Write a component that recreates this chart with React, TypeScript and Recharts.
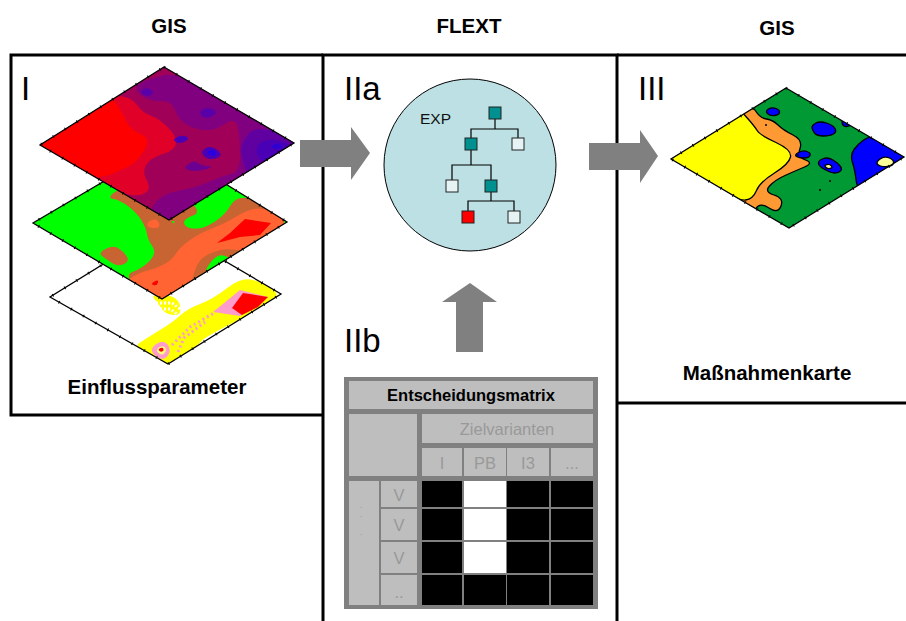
import React from 'react';
import { ScatterChart, Scatter, XAxis, YAxis } from 'recharts';

type Pair = number[];

// frames
const frameLeft: Pair[] = [[323, 55], [11, 55], [11, 415], [323, 415]];
const frameMid: Pair[] = [[323, 621], [323, 55], [617, 55], [617, 621]];
const frameRight: Pair[] = [[617, 55], [906, 55]];
const frameRightLow: Pair[] = [[617, 403], [906, 403]];

// arrows
const arrowOne: Pair[] = [[300, 140], [351, 140], [351, 127], [370, 153], [351, 180], [351, 167], [300, 167]];
const arrowTwo: Pair[] = [[589, 143], [640, 143], [640, 130], [658, 156], [640, 183], [640, 170], [589, 170]];
const arrowUp: Pair[] = [[456, 352], [456, 302], [442, 302], [470, 283], [497, 302], [483, 302], [483, 352]];

// top map (I)
const topDiamond: Pair[] = [[164, 67], [294, 143], [169, 220], [40, 145]];
const topPurple: Pair[] = [[182, 72], [310, 140], [175, 235], [146, 218], [160, 194], [195, 188], [222, 176], [240, 172], [240, 140], [236, 116], [212, 133], [180, 124], [172, 100], [150, 102], [132, 88], [150, 78]];
const topCrimson: Pair[] = [[113, 95], [132, 98], [143, 113], [158, 118], [176, 135], [176, 150], [150, 158], [142, 172], [152, 190], [134, 198], [95, 182], [60, 160], [90, 108]];
const topRed: Pair[] = [[110, 96], [120, 108], [130, 130], [147, 136], [147, 148], [133, 165], [120, 170], [106, 177], [60, 180], [10, 145], [60, 100]];
const topViolet: Pair[] = [[240, 145], [256, 124], [310, 143], [248, 180], [243, 160]];
const topBlobA: Pair[] = [[200, 110], [209, 107], [218, 112], [210, 118], [201, 117]];
const topBlobB: Pair[] = [[173, 139], [182, 135], [190, 138], [183, 143], [176, 143]];
const topBlobC: Pair[] = [[201, 151], [211, 145], [224, 155], [212, 160], [204, 157]];
const topBlobD: Pair[] = [[139, 92], [147, 87], [155, 93], [147, 97]];
const topBlobE: Pair[] = [[254, 146], [270, 138], [296, 145], [262, 166]];
const topCore: Pair[] = [[206, 152], [212, 149], [218, 153], [212, 157]];
const topCoreB: Pair[] = [[270, 146], [277, 143], [285, 147], [276, 150]];
const topDark: Pair[] = [[182, 168], [195, 160], [200, 165], [215, 167], [195, 172]];
const topSpot: Pair[] = [[220, 163], [227, 160], [232, 165], [226, 169]];

// middle map
const midDiamond: Pair[] = [[164, 146], [287, 222], [162, 299], [33, 223]];
const midBrown: Pair[] = [[107, 198], [120, 200], [137, 213], [146, 228], [148, 240], [157, 253], [143, 268], [122, 276], [162, 312], [300, 226], [275, 208], [258, 200], [236, 196], [225, 215], [205, 228], [190, 229], [183, 224], [186, 218], [200, 213], [190, 200], [165, 190], [120, 188]];
const midOrange: Pair[] = [[122, 284], [138, 273], [157, 268], [172, 260], [180, 247], [200, 233], [226, 223], [245, 211], [262, 207], [280, 216], [292, 226], [248, 252], [225, 248], [205, 255], [196, 265], [190, 290], [162, 312]];
const midRed: Pair[] = [[245, 219], [271, 223], [260, 235], [240, 237], [217, 243], [230, 233]];
const midRedSmall: Pair[] = [[150, 284], [159, 279], [157, 286]];
const midOrangeSmall: Pair[] = [[147, 222], [157, 218], [161, 228], [148, 228]];
const midBrownPatch: Pair[] = [[98, 253], [113, 245], [123, 251], [130, 261], [118, 267], [106, 259]];
const midGreenPatch: Pair[] = [[202, 276], [213, 258], [223, 254], [236, 262]];
const midGreenDot: Pair[] = [[171, 221], [175, 221], [174, 224]];
const midGreenCorner: Pair[] = [[283, 222], [287, 219], [290, 224], [285, 225]];

// bottom map
const lowDiamond: Pair[] = [[165, 226], [281, 294], [168, 364], [50, 297]];
const lowYellow: Pair[] = [[130, 349], [150, 336], [173, 322], [187, 309], [213, 299], [240, 278], [260, 281], [282, 295], [262, 308], [205, 337], [198, 345], [168, 372]];
const lowYellowTop: Pair[] = [[150, 294], [178, 296], [182, 316], [165, 314], [158, 303]];
const lowSpeckleA: Pair[] = [[156, 303], [172, 303], [180, 309]];
const lowSpeckleB: Pair[] = [[160, 309], [170, 309], [177, 314]];
const lowPink: Pair[] = [[213, 312], [240, 290], [268, 297], [240, 316]];
const lowRed: Pair[] = [[232, 308], [243, 293], [268, 297], [258, 307], [242, 315]];
const lowPinkSmall: Pair[] = [[148, 350], [163, 339], [172, 350], [163, 362]];
const lowWhiteSmall: Pair[] = [[155, 350], [163, 345], [167, 350], [162, 356]];
const lowRedSmall: Pair[] = [[158, 349], [163, 347], [164, 351], [160, 352]];
const lowTrailA: Pair[] = [[172, 345], [190, 327], [214, 313]];
const lowTrailB: Pair[] = [[178, 352], [184, 338], [205, 322]];

// right map (III)
const rightDiamond: Pair[] = [[786, 88], [904, 157], [789, 228], [671, 159]];
const rightOrange: Pair[] = [[736, 108], [752, 105], [760, 118], [773, 120], [783, 130], [803, 140], [797, 157], [814, 163], [795, 171], [775, 180], [764, 192], [784, 198], [778, 214], [760, 202], [752, 215], [736, 198], [700, 170]];
const rightYellow: Pair[] = [[743, 113], [755, 127], [760, 135], [792, 150], [789, 164], [760, 182], [753, 199], [738, 201], [660, 165], [655, 155], [730, 100]];
const rightBlueBig: Pair[] = [[850, 155], [858, 144], [868, 137], [885, 132], [925, 157], [858, 196], [855, 170]];
const rightBlueA: Pair[] = [[765, 111], [772, 107], [780, 110], [779, 115], [770, 116]];
const rightBlueB: Pair[] = [[812, 125], [820, 121], [833, 125], [837, 132], [830, 136], [817, 136], [812, 130]];
const rightBlueC: Pair[] = [[842, 119], [852, 125], [846, 127], [842, 125]];
const rightBlueD: Pair[] = [[794, 155], [803, 150], [811, 153], [809, 158], [799, 158]];
const rightBlueE: Pair[] = [[819, 160], [828, 157], [838, 163], [843, 170], [835, 174], [825, 170], [818, 165]];
const rightPaleA: Pair[] = [[824, 165], [830, 164], [833, 168], [827, 169]];
const rightPaleB: Pair[] = [[877, 161], [885, 156], [894, 160], [893, 166], [884, 167], [877, 165]];
const rightDots: Pair[] = [[766, 125], [798, 155], [830, 181], [820, 190]];

// decision tree
const circleCentre: Pair[] = [[470, 165]];
const treeLinks: Pair[][] = [
  [[495, 113], [495, 129]],
  [[471, 144], [471, 129], [518, 129], [518, 144]],
  [[471, 144], [471, 165]],
  [[452, 186], [452, 165], [491, 165], [491, 186]],
  [[491, 186], [491, 201]],
  [[468, 217], [468, 201], [514, 201], [514, 217]],
];
const treeTeal: Pair[] = [[495, 113], [471, 144], [491, 186]];
const treeEmpty: Pair[] = [[518, 144], [452, 186], [514, 217]];
const treeRed: Pair[] = [[468, 217]];

// matrix
const matrixEdgeX: Pair[] = [[422, 462], [464, 506], [507, 549], [551, 593]];
const matrixEdgeY: Pair[] = [[481, 507], [509, 540], [542, 573], [575, 605]];
const whiteCells: Pair[] = [[1, 0], [1, 1], [1, 2]];
const matrixOuter: number[] = [344, 377, 598, 609];
const greyCells: number[][] = [
  [349, 381, 593, 409],
  [349, 414, 417, 476],
  [422, 414, 593, 443],
  [422, 448, 462, 476],
  [464, 448, 506, 476],
  [507, 448, 549, 476],
  [551, 448, 593, 476],
  [349, 481, 379, 605],
  [381, 481, 417, 507],
  [381, 509, 417, 540],
  [381, 542, 417, 573],
  [381, 575, 417, 605],
];

// texts
const titleLabels = [
  { x: 169, y: 33, text: 'GIS' },
  { x: 469, y: 33, text: 'FLEXT' },
  { x: 777, y: 35, text: 'GIS' },
];
const panelLabels = [
  { x: 21, y: 100, text: 'I' },
  { x: 344, y: 100, text: 'IIa' },
  { x: 344, y: 352, text: 'IIb' },
  { x: 638, y: 100, text: 'III' },
];
const captionLabels = [
  { x: 157, y: 394, text: 'Einflussparameter' },
  { x: 767, y: 380, text: 'Maßnahmenkarte' },
];
const matrixGreyLabels = [
  { x: 507, y: 435, text: 'Zielvarianten' },
  { x: 442, y: 469, text: 'I' },
  { x: 485, y: 469, text: 'PB' },
  { x: 528, y: 469, text: 'I3' },
  { x: 572, y: 469, text: '...' },
  { x: 399, y: 501, text: 'V' },
  { x: 399, y: 531, text: 'V' },
  { x: 399, y: 564, text: 'V' },
  { x: 399, y: 598, text: '..' },
];
const sideDots = [
  { x: 361, y: 508, text: '.' },
  { x: 361, y: 517, text: '.' },
  { x: 361, y: 535, text: '.' },
];

const FONT = '"Liberation Sans", Arial, sans-serif';

const rows = (pts: Pair[]) => pts.map(([x, y]) => ({ x, y }));
const box = ([a, b, c, d]: number[]): Pair[] => [[a, b], [c, b], [c, d], [a, d]];
const noMark = () => <g />;

const straightPath = (pts: any[], closed: boolean) =>
  pts.map((p, i) => `${i ? 'L' : 'M'}${p.x} ${p.y}`).join(' ') + (closed ? ' Z' : '');

// closed curve through the midpoints of the listed corners
const smoothPath = (pts: any[]) => {
  const mid = (a: any, b: any) => ({ x: (a.x + b.x) / 2, y: (a.y + b.y) / 2 });
  const start = mid(pts[pts.length - 1], pts[0]);
  let d = `M${start.x} ${start.y}`;
  pts.forEach((p, i) => {
    const m = mid(p, pts[(i + 1) % pts.length]);
    d += ` Q${p.x} ${p.y} ${m.x} ${m.y}`;
  });
  return d + ' Z';
};

let seriesId = 0;

const poly = (pts: Pair[], style: any) => (
  <Scatter
    key={`poly-${seriesId++}`}
    data={rows(pts)}
    isAnimationActive={false}
    shape={noMark}
    line={(lp: any) => <path d={straightPath(lp.points, true)} {...style} />}
  />
);

const blob = (pts: Pair[], style: any) => (
  <Scatter
    key={`blob-${seriesId++}`}
    data={rows(pts)}
    isAnimationActive={false}
    shape={noMark}
    line={(lp: any) => <path d={smoothPath(lp.points)} {...style} />}
  />
);

const open = (pts: Pair[], style: any) => (
  <Scatter
    key={`open-${seriesId++}`}
    data={rows(pts)}
    isAnimationActive={false}
    shape={noMark}
    line={(lp: any) => <path d={straightPath(lp.points, false)} fill="none" {...style} />}
  />
);

const clip = (id: string, pts: Pair[]) => (
  <Scatter
    key={`clip-${id}`}
    data={rows(pts)}
    isAnimationActive={false}
    shape={noMark}
    line={(lp: any) => (
      <clipPath id={id}>
        <path d={straightPath(lp.points, true)} />
      </clipPath>
    )}
  />
);

const labels = (items: any[], style: any) => (
  <Scatter
    key={`labels-${seriesId++}`}
    data={items}
    isAnimationActive={false}
    shape={(s: any) => (
      <text x={s.cx} y={s.cy} fontFamily={FONT} {...style}>
        {s.payload.text}
      </text>
    )}
  />
);

const marks = (pts: Pair[], render: (s: any) => React.ReactElement) => (
  <Scatter key={`marks-${seriesId++}`} data={rows(pts)} isAnimationActive={false} shape={render} />
);

// thin outline with the small tick marks the map frames carry
const outline = (pts: Pair[]) => [
  poly(pts, { fill: 'none', stroke: '#000', strokeWidth: 1.3 }),
  poly(pts, { fill: 'none', stroke: '#000', strokeWidth: 3, strokeDasharray: '1 13' }),
];

const inMap = (id: string, fill: string, extra: any = {}) => ({ fill, clipPath: `url(#${id})`, ...extra });
const lined = { stroke: '#000', strokeWidth: 1.3 };

export default function App() {
  seriesId = 0;
  const cellBox = ([col, row]: Pair) => box([matrixEdgeX[col][0], matrixEdgeY[row][0], matrixEdgeX[col][1], matrixEdgeY[row][1]]);
  const blackCells: Pair[] = [];
  matrixEdgeX.forEach((_, c) => matrixEdgeY.forEach((__, r) => {
    if (!whiteCells.some(([a, b]) => a === c && b === r)) blackCells.push([c, r]);
  }));

  return (
    <div style={{ position: 'absolute', left: 0, top: 0, width: 906, height: 621, background: '#fff' }}>
      <ScatterChart width={906} height={621} margin={{ top: 0, right: 0, bottom: 0, left: 0 }}>
        <XAxis type="number" dataKey="x" domain={[0, 906]} allowDataOverflow hide />
        <YAxis type="number" dataKey="y" domain={[0, 621]} allowDataOverflow reversed hide />

        {clip('clipTop', topDiamond)}
        {clip('clipMid', midDiamond)}
        {clip('clipLow', lowDiamond)}
        {clip('clipRight', rightDiamond)}

        {/* bottom map */}
        {poly(lowDiamond, { fill: '#fff' })}
        {blob(lowYellow, inMap('clipLow', '#ffff00'))}
        {blob(lowYellowTop, inMap('clipLow', '#ffff00'))}
        {open(lowSpeckleA, { stroke: '#fff', strokeWidth: 3, strokeDasharray: '2 2' })}
        {open(lowSpeckleB, { stroke: '#fff', strokeWidth: 3, strokeDasharray: '2 2' })}
        {open(lowTrailA, { stroke: '#ff9ccc', strokeWidth: 3, strokeDasharray: '2 3' })}
        {open(lowTrailB, { stroke: '#ff9ccc', strokeWidth: 3, strokeDasharray: '2 3' })}
        {poly(lowPink, inMap('clipLow', '#ff9ccc'))}
        {poly(lowRed, inMap('clipLow', '#ff0000'))}
        {blob(lowPinkSmall, inMap('clipLow', '#ff9ccc'))}
        {blob(lowWhiteSmall, inMap('clipLow', '#ffff80'))}
        {blob(lowRedSmall, inMap('clipLow', '#ff0000'))}
        {outline(lowDiamond)}

        {/* middle map */}
        {poly(midDiamond, { fill: '#00ff00' })}
        {blob(midBrown, inMap('clipMid', '#c86432'))}
        {blob(midOrange, inMap('clipMid', '#ff6432'))}
        {poly(midRed, inMap('clipMid', '#ff0000'))}
        {blob(midRedSmall, inMap('clipMid', '#ff0000'))}
        {blob(midOrangeSmall, inMap('clipMid', '#ff6432'))}
        {blob(midBrownPatch, inMap('clipMid', '#c86432'))}
        {blob(midGreenPatch, inMap('clipMid', '#00ff00'))}
        {blob(midGreenDot, inMap('clipMid', '#00ff00'))}
        {blob(midGreenCorner, inMap('clipMid', '#00ff00'))}
        {outline(midDiamond)}

        {/* top map */}
        {poly(topDiamond, { fill: '#a00058' })}
        {blob(topPurple, inMap('clipTop', '#800080'))}
        {blob(topCrimson, inMap('clipTop', '#e00028'))}
        {blob(topRed, inMap('clipTop', '#ff0000'))}
        {blob(topViolet, inMap('clipTop', '#6000a0'))}
        {blob(topDark, inMap('clipTop', '#6c0090'))}
        {blob(topSpot, inMap('clipTop', '#a00058'))}
        {blob(topBlobA, inMap('clipTop', '#5a00a8'))}
        {blob(topBlobB, inMap('clipTop', '#4a00b4'))}
        {blob(topBlobC, inMap('clipTop', '#4a00b4'))}
        {blob(topBlobD, inMap('clipTop', '#5a00a8'))}
        {blob(topBlobE, inMap('clipTop', '#4a00b4'))}
        {blob(topCore, inMap('clipTop', '#2a00e0'))}
        {blob(topCoreB, inMap('clipTop', '#3000d0'))}
        {outline(topDiamond)}

        {/* right map */}
        {poly(rightDiamond, { fill: '#009933' })}
        {blob(rightOrange, inMap('clipRight', '#ff9933', lined))}
        {blob(rightYellow, inMap('clipRight', '#ffff00', lined))}
        {blob(rightBlueBig, inMap('clipRight', '#0000ff', lined))}
        {[rightBlueA, rightBlueB, rightBlueC, rightBlueD, rightBlueE].map((b) => blob(b, inMap('clipRight', '#0000ff', lined)))}
        {blob(rightPaleA, { fill: '#ffff99', ...lined })}
        {blob(rightPaleB, { fill: '#ffff99', ...lined })}
        {marks(rightDots, (s) => <circle cx={s.cx} cy={s.cy} r={1} fill="#000" />)}
        {outline(rightDiamond)}

        {/* frames */}
        {open(frameLeft, { stroke: '#000', strokeWidth: 3 })}
        {open(frameMid, { stroke: '#000', strokeWidth: 3 })}
        {open(frameRight, { stroke: '#000', strokeWidth: 3 })}
        {open(frameRightLow, { stroke: '#000', strokeWidth: 3 })}

        {/* arrows */}
        {poly(arrowOne, { fill: '#808080' })}
        {poly(arrowTwo, { fill: '#808080' })}
        {poly(arrowUp, { fill: '#808080' })}

        {/* decision tree */}
        {marks(circleCentre, (s) => <circle cx={s.cx} cy={s.cy} r={86} fill="#bde0e4" stroke="#000" strokeWidth={1} />)}
        {treeLinks.map((l) => open(l, { stroke: '#000', strokeWidth: 1.2 }))}
        {marks(treeTeal, (s) => <rect x={s.cx - 6} y={s.cy - 6} width={12} height={12} fill="#009090" stroke="#222" />)}
        {marks(treeEmpty, (s) => <rect x={s.cx - 6} y={s.cy - 6} width={12} height={12} fill="#e6f3f4" stroke="#222" />)}
        {marks(treeRed, (s) => <rect x={s.cx - 6} y={s.cy - 6} width={12} height={12} fill="#ff0000" stroke="#222" />)}
        {labels([{ x: 420, y: 124, text: 'EXP' }], { fontSize: 15.5, fill: '#111' })}

        {/* matrix */}
        {poly(box(matrixOuter), { fill: '#808080' })}
        {greyCells.map((c) => poly(box(c), { fill: '#bebebe' }))}
        {blackCells.map((c) => poly(cellBox(c), { fill: '#000' }))}
        {whiteCells.map((c) => poly(cellBox(c), { fill: '#fff' }))}

        {/* texts */}
        {labels(titleLabels, { fontSize: 20.5, fontWeight: 700, textAnchor: 'middle', fill: '#000' })}
        {labels(panelLabels, { fontSize: 33, fill: '#000' })}
        {labels(captionLabels, { fontSize: 20.5, fontWeight: 700, textAnchor: 'middle', fill: '#000' })}
        {labels([{ x: 471, y: 401, text: 'Entscheidungsmatrix' }], { fontSize: 16.5, fontWeight: 700, textAnchor: 'middle', fill: '#000' })}
        {labels(matrixGreyLabels, { fontSize: 16.5, textAnchor: 'middle', fill: '#999' })}
        {labels(sideDots, { fontSize: 9, textAnchor: 'middle', fill: '#999' })}
      </ScatterChart>
    </div>
  );
}
